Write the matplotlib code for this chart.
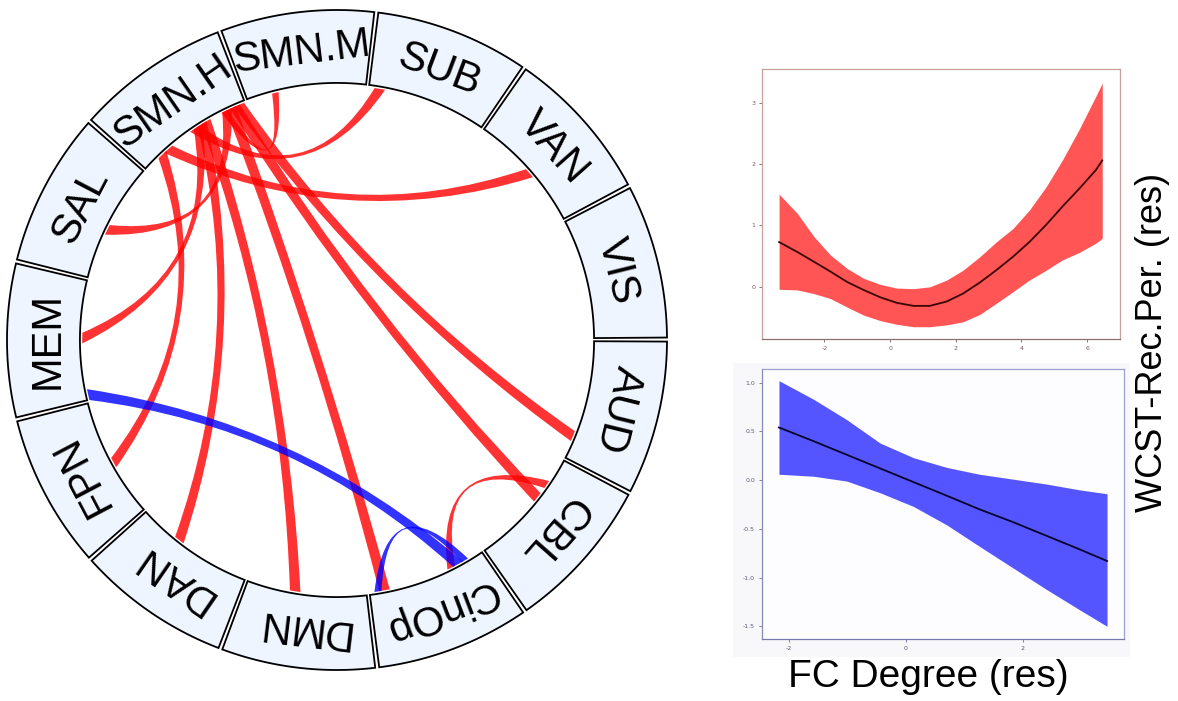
import numpy as np
import matplotlib.pyplot as plt
from matplotlib.path import Path
from matplotlib.patches import PathPatch, Polygon, Rectangle
from matplotlib.ticker import FormatStrFormatter

plt.rcParams['axes.unicode_minus'] = False

# networks around the circle, clockwise from the top
networks = ["SMN.M", "SUB", "VAN", "VIS", "AUD", "CBL", "CinOp",
            "DMN", "DAN", "FPN", "MEM", "SAL", "SMN.H"]

# significant FC-degree edges (sign: +1 positive, -1 negative)
link_from = ["SMN.H", "SMN.H", "SMN.H", "SMN.H", "SMN.H", "SMN.H", "SMN.H",
             "SMN.H", "SMN.H", "SMN.H", "SMN.H", "CBL", "MEM", "CinOp"]
link_to = ["AUD", "CBL", "CinOp", "SAL", "SMN.M", "DMN", "DAN",
           "MEM", "SUB", "VAN", "FPN", "CinOp", "CinOp", "CinOp"]
link_sign = [1, 1, 1, 1, 1, 1, 1, 1, 1, 1, 1, 1, -1, -1]

# partial-residual fit, positive association
red_x = [-3.38, -2.83, -2.32, -1.82, -1.31, -0.81, -0.30, 0.20, 0.71, 1.21, 1.72,
         2.22, 2.73, 3.23, 3.74, 4.24, 4.75, 5.25, 5.76, 6.26, 6.46]
red_fit = [0.73, 0.57, 0.41, 0.25, 0.08, -0.05, -0.17, -0.26, -0.31, -0.31, -0.24,
           -0.11, 0.07, 0.27, 0.49, 0.73, 1.01, 1.31, 1.60, 1.90, 2.06]
red_hi = [1.51, 1.20, 0.82, 0.52, 0.30, 0.14, 0.04, -0.02, -0.03, 0.00, 0.11,
          0.27, 0.49, 0.73, 0.95, 1.25, 1.63, 2.07, 2.57, 3.10, 3.32]
red_lo = [-0.04, -0.05, -0.11, -0.19, -0.33, -0.46, -0.55, -0.61, -0.65, -0.65, -0.62,
          -0.57, -0.45, -0.27, -0.08, 0.11, 0.27, 0.44, 0.56, 0.71, 0.79]

# partial-residual fit, negative association
blue_x = [-2.17, -1.58, -1.01, -0.44, 0.13, 0.70, 1.26, 1.83, 2.40, 2.97, 3.44]
blue_fit = [0.54, 0.40, 0.26, 0.12, -0.02, -0.16, -0.30, -0.43, -0.57, -0.71, -0.83]
blue_hi = [1.02, 0.83, 0.62, 0.38, 0.23, 0.13, 0.06, 0.01, -0.04, -0.10, -0.14]
blue_lo = [0.06, 0.04, -0.01, -0.13, -0.27, -0.46, -0.68, -0.90, -1.12, -1.33, -1.50]

# ---- layout ----
W, H = 1178, 701
cx, cy, R_px = 337, 340, 330          # circle centre / outer radius in pixels
r_in, r_link = 0.779, 0.772
step = 360.0 / len(networks)
start = 97.0
gap = 0.7
centre = {n: start - i * step for i, n in enumerate(networks)}

# where each ribbon leaves a segment (degrees from the segment centre)
from_off = [-12.1, -11.1, -10.1, -9.1, -8.5, -3.7, -2.7, -1.7, -0.7, 6.8, 8.6, 6.9, 12.3, -11.6]
to_off = [-8.4, 3.3, -10.1, 2.0, 7.0, -2.6, -3.7, -0.5, 11.0, -0.7, 1.0, 5.8, 7.5, 9.3]
widths = [2.4, 2.4, 2.4, 2.4, 1.5, 2.4, 2.4, 2.4, 2.4, 2.4, 2.4, 1.9, 2.5, 1.6]

fig = plt.figure(figsize=(W / 100, H / 100), dpi=100)

half = 350
axc = fig.add_axes([(cx - half) / W, (H - cy - half) / H, 2 * half / W, 2 * half / H])
axc.set_xlim(-half / R_px, half / R_px)
axc.set_ylim(-half / R_px, half / R_px)
axc.axis('off')


def pt(a, r):
    t = np.radians(a)
    return np.array([r * np.cos(t), r * np.sin(t)])


def ribbon(ax, a1, a2, w, color):
    k = 0.6
    verts, codes = [], []
    for i, a in enumerate(np.linspace(a1 - w / 2, a1 + w / 2, 8)):
        verts.append(pt(a, r_link))
        codes.append(Path.MOVETO if i == 0 else Path.LINETO)
    p, q = pt(a1 + w / 2, r_link), pt(a2 - w / 2, r_link)
    verts += [k * (p + q) / 2, q]
    codes += [Path.CURVE3, Path.CURVE3]
    for a in np.linspace(a2 - w / 2, a2 + w / 2, 8)[1:]:
        verts.append(pt(a, r_link))
        codes.append(Path.LINETO)
    p, q = pt(a2 + w / 2, r_link), pt(a1 - w / 2, r_link)
    verts += [k * (p + q) / 2, q, q]
    codes += [Path.CURVE3, Path.CURVE3, Path.CLOSEPOLY]
    ax.add_patch(PathPatch(Path(verts, codes), facecolor=color,
                           edgecolor='none', alpha=0.8, zorder=3))


# segment boxes with labels
label_font = ['Liberation Sans', 'DejaVu Sans']
for n in networks:
    a = centre[n]
    arc = np.linspace(a - step / 2 + gap / 2, a + step / 2 - gap / 2, 40)
    outer = [pt(t, 1.0) for t in arc]
    inner = [pt(t, r_in) for t in arc[::-1]]
    axc.add_patch(Polygon(outer + inner, closed=True, facecolor='#eef5ff',
                          edgecolor='black', lw=1.3, zorder=2))
    x, y = pt(a, 0.843)
    axc.text(x, y, n, rotation=a - 90, rotation_mode='anchor', ha='center',
             va='baseline', fontsize=30, family=label_font, zorder=4)

# positive links first, negative on top
order = [i for i in range(len(link_sign)) if link_sign[i] > 0] + \
        [i for i in range(len(link_sign)) if link_sign[i] < 0]
for i in order:
    a1 = centre[link_from[i]] + from_off[i]
    a2 = centre[link_to[i]] + to_off[i]
    ribbon(axc, a1, a2, widths[i], '#ff0000' if link_sign[i] > 0 else '#0000ff')

# ---- partial residual panels ----
tick_font = ['Liberation Sans', 'DejaVu Sans']

ax1 = fig.add_axes([762 / W, (H - 339) / H, 358 / W, 270 / H])
ax1.fill_between(red_x, red_lo, red_hi, color='#ff5555', lw=0)
ax1.plot(red_x, red_fit, color='#3a0505', lw=1.3)
ax1.set_xlim(-3.9, 7.0)
ax1.set_ylim(-0.85, 3.55)
ax1.set_xticks([-2, 0, 2, 4, 6])
ax1.set_yticks([0, 1, 2, 3])
for s in ax1.spines.values():
    s.set_color('#c8a0a0')
    s.set_linewidth(0.9)
ax1.spines['bottom'].set_color('#8a7070')
ax1.tick_params(labelsize=4.5, length=2, width=0.6, pad=3,
                colors='#7a6060', labelcolor='#7a5a6a')

# light backdrop behind the lower panel
fig.patches.append(Rectangle((733 / W, (H - 657) / H), 397 / W, 294 / H,
                             transform=fig.transFigure, facecolor='#f8f8fa',
                             edgecolor='none', zorder=-5))
ax2 = fig.add_axes([762 / W, (H - 639) / H, 362 / W, 270 / H])
ax2.set_zorder(2)
ax2.set_facecolor('#fdfdff')
ax2.fill_between(blue_x, blue_lo, blue_hi, color='#5555ff', lw=0)
ax2.plot(blue_x, blue_fit, color='#05052a', lw=1.3)
ax2.set_xlim(-2.46, 3.73)
ax2.set_ylim(-1.63, 1.14)
ax2.set_xticks([-2, 0, 2])
ax2.set_yticks([1.0, 0.5, 0.0, -0.5, -1.0, -1.5])
ax2.yaxis.set_major_formatter(FormatStrFormatter('%.1f'))
for s in ax2.spines.values():
    s.set_color('#a0a0d0')
    s.set_linewidth(0.9)
ax2.spines['bottom'].set_color('#7a7aaa')
ax2.spines['left'].set_color('#8a8ab8')
ax2.tick_params(labelsize=4.5, length=2, width=0.6, pad=3,
                colors='#6a6a9a', labelcolor='#5a5a7a')

fig.text(928 / W, 1 - 677 / H, "FC Degree (res)", ha='center', va='center',
         fontsize=28, family=tick_font)
fig.text(1152 / W, 1 - 342 / H, "WCST-Rec.Per. (res)", ha='center', va='center',
         rotation=90, fontsize=26, family=tick_font)

fig.savefig('out.png', dpi=100)
